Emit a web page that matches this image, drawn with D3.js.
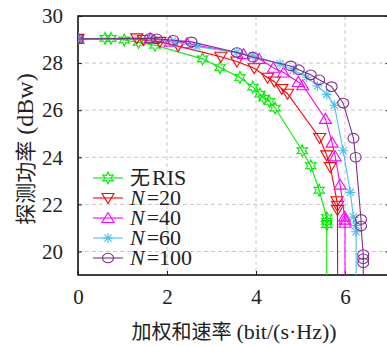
<!DOCTYPE html>
<html>
<head>
<meta charset="utf-8">
<script src="https://cdn.jsdelivr.net/npm/d3@7"></script>
<style>
  body { margin: 0; background: #fff; }
</style>
</head>
<body>
<svg id="chart" width="387" height="347"></svg>
<script>
// weighted sum rate (bit/(s·Hz)) vs detection power (dBw)
const xTicks = [0, 2, 4, 6];
const yTicks = [20, 22, 24, 26, 28, 30];

const noRisRate  = [0, 0.61, 0.74, 1.04, 1.36, 1.73, 2.80, 3.19, 3.64, 3.93, 4.09, 4.18, 4.30, 4.43, 5.04, 5.23, 5.42, 5.59, 5.59, 5.59, 5.59];
const noRisPower = [29.03, 29.05, 29.05, 28.98, 28.88, 28.76, 28.18, 27.81, 27.39, 26.98, 26.68, 26.51, 26.37, 26.09, 24.28, 23.64, 22.60, 21.43, 21.28, 21.14, 15];

const n20Rate  = [0, 1.32, 1.47, 1.84, 2.25, 3.21, 3.57, 3.96, 4.26, 4.41, 4.58, 4.71, 5.43, 5.59, 5.67, 5.82, 5.83, 5.83, 5.84];
const n20Power = [29.03, 29.05, 28.98, 28.90, 28.72, 28.27, 28.07, 27.78, 27.38, 27.22, 26.90, 26.70, 24.82, 24.08, 23.58, 22.13, 21.94, 21.76, 15];

const n40Rate  = [0, 1.62, 2.07, 2.45, 3.72, 4.07, 4.39, 4.62, 4.95, 5.05, 5.56, 5.71, 5.78, 5.89, 5.99, 6.00, 6.00, 6.00];
const n40Power = [29.03, 29.05, 28.91, 28.84, 28.38, 28.18, 27.80, 27.60, 27.20, 27.06, 25.63, 24.62, 24.04, 22.84, 21.48, 21.35, 21.22, 15];

const n60Rate  = [0, 1.65, 2.18, 2.67, 3.57, 3.93, 4.54, 4.84, 5.14, 5.38, 5.59, 5.76, 5.96, 6.12, 6.19, 6.24, 6.25, 6.25];
const n60Power = [29.03, 29.05, 28.91, 28.70, 28.46, 28.31, 27.97, 27.71, 27.40, 27.03, 26.67, 26.21, 24.28, 22.51, 21.46, 21.10, 20.84, 15];

const n100Rate  = [0, 1.62, 1.77, 2.14, 2.55, 3.57, 3.93, 4.78, 4.96, 5.23, 5.42, 5.70, 5.96, 6.19, 6.24, 6.36, 6.36, 6.41, 6.41, 6.41, 6.41];
const n100Power = [29.03, 29.05, 29.03, 28.97, 28.90, 28.45, 28.25, 27.88, 27.72, 27.50, 27.29, 27.00, 26.30, 24.81, 24.00, 21.36, 21.08, 19.87, 19.69, 19.52, 15];

const series = [
  {name: "RIS", pre: "无", rate: noRisRate, power: noRisPower, color: "#00ee00", marker: "hexagram"},
  {name: "=20", pre: "N", rate: n20Rate, power: n20Power, color: "#ff0000", marker: "down"},
  {name: "=40", pre: "N", rate: n40Rate, power: n40Power, color: "#ff00ff", marker: "up"},
  {name: "=60", pre: "N", rate: n60Rate, power: n60Power, color: "#4dbeee", marker: "asterisk"},
  {name: "=100", pre: "N", rate: n100Rate, power: n100Power, color: "#7e2f8e", marker: "circle"}
];

const serif = "'Liberation Serif', 'DejaVu Serif', serif";
const cjk = "'Noto Sans CJK SC', sans-serif";

const svg = d3.select("#chart");
const plotLeft = 78, plotTop = 16, plotRight = 389.5, plotBottom = 275;

const x = d3.scaleLinear().domain([0, 7]).range([plotLeft, plotRight]);
const y = d3.scaleLinear().domain([19, 30]).range([plotBottom, plotTop]);

svg.append("defs").append("clipPath").attr("id", "plotclip")
  .append("rect").attr("x", plotLeft).attr("y", plotTop)
  .attr("width", plotRight - plotLeft).attr("height", plotBottom - plotTop);

// grid
svg.append("g").selectAll("line.gx")
  .data(xTicks.filter(d => d > 0)).enter()
  .append("line").attr("class", "gx")
  .attr("x1", d => x(d)).attr("x2", d => x(d)).attr("y1", plotTop).attr("y2", plotBottom)
  .style("stroke", "#c8c8c8").style("stroke-dasharray", "4 3");
svg.append("g").selectAll("line.gy")
  .data(yTicks.filter(d => d < 30)).enter()
  .append("line").attr("class", "gy")
  .attr("x1", plotLeft).attr("x2", plotRight).attr("y1", d => y(d)).attr("y2", d => y(d))
  .style("stroke", "#c8c8c8").style("stroke-dasharray", "4 3");

// axes, ticks inward
const tk = 4;
svg.append("g").attr("transform", `translate(0,${plotBottom})`)
  .call(d3.axisBottom(x).tickValues(xTicks).tickFormat(d3.format("d"))
    .tickSizeInner(-tk).tickSizeOuter(0).tickPadding(14))
  .attr("font-family", serif)
  .call(g => g.selectAll("text").style("font-family", serif).style("font-size", "21px").style("fill", "#222"));
svg.append("g").attr("transform", `translate(${plotLeft},0)`)
  .call(d3.axisLeft(y).tickValues(yTicks).tickFormat(d3.format("d"))
    .tickSizeInner(-tk).tickSizeOuter(0).tickPadding(15))
  .attr("font-family", serif)
  .call(g => g.selectAll("text").style("font-family", serif).style("font-size", "21px").style("fill", "#222"));
svg.append("g").attr("transform", `translate(${plotRight},0)`)
  .call(d3.axisRight(y).tickValues(yTicks).tickSizeInner(-tk).tickSizeOuter(0).tickFormat(""));
svg.selectAll(".domain").remove();
svg.selectAll(".tick line").style("stroke", "#222");

svg.append("rect")
  .attr("x", plotLeft).attr("y", plotTop)
  .attr("width", plotRight - plotLeft).attr("height", plotBottom - plotTop)
  .style("fill", "none").style("stroke", "#111").style("stroke-width", 1.6);

// markers
function markerPath(type) {
  const p = d3.path();
  if (type === "hexagram") {
    for (let i = 0; i < 12; i++) {
      const r = i % 2 === 0 ? 6 : 3;
      const a = -Math.PI / 2 + i * Math.PI / 6;
      if (i === 0) p.moveTo(r * Math.cos(a), r * Math.sin(a));
      else p.lineTo(r * Math.cos(a), r * Math.sin(a));
    }
    p.closePath();
  } else if (type === "down") {
    p.moveTo(-6, -4.5); p.lineTo(6, -4.5); p.lineTo(0, 5.5); p.closePath();
  } else if (type === "up") {
    p.moveTo(-6, 4.5); p.lineTo(6, 4.5); p.lineTo(0, -5.5); p.closePath();
  } else if (type === "asterisk") {
    p.moveTo(-5, 0); p.lineTo(5, 0);
    p.moveTo(0, -5); p.lineTo(0, 5);
    p.moveTo(-3.6, -3.6); p.lineTo(3.6, 3.6);
    p.moveTo(-3.6, 3.6); p.lineTo(3.6, -3.6);
  }
  return p.toString();
}

function drawMarker(g, type, color) {
  if (type === "circle") {
    g.append("ellipse").attr("rx", 5.5).attr("ry", 4.8)
      .style("fill", "none").style("stroke", color).style("stroke-width", 1.1);
  } else {
    g.append("path").attr("d", markerPath(type))
      .style("fill", "none").style("stroke", color).style("stroke-width", 1.1);
  }
}

const plot = svg.append("g").attr("clip-path", "url(#plotclip)");
const line = d3.line().x(d => x(d[0])).y(d => y(d[1]));

series.forEach(s => {
  const pts = s.rate.map((r, i) => [r, s.power[i]]);
  plot.append("path").datum(pts)
    .attr("d", line)
    .style("fill", "none").style("stroke", s.color).style("stroke-width", 1.1);
  plot.selectAll(null)
    .data(pts.filter(d => d[1] >= 19)).enter()
    .append("g")
    .attr("transform", d => `translate(${x(d[0])},${y(d[1])})`)
    .each(function() { drawMarker(d3.select(this), s.marker, s.color); });
});

// legend: prefix and rest as two texts side by side
const legend = svg.append("g");
series.forEach((s, i) => {
  const ly = 178 + i * 20;
  const g = legend.append("g").attr("transform", `translate(0,${ly})`);
  g.append("line").attr("x1", 93).attr("x2", 123).attr("y1", 0).attr("y2", 0)
    .style("stroke", s.color).style("stroke-width", 1.1);
  drawMarker(g.append("g").attr("transform", "translate(108,0)"), s.marker, s.color);
  const pre = g.append("text").attr("x", 130).attr("y", 7)
    .style("font-size", "22px").style("fill", "#222").text(s.pre);
  if (s.pre === "N") pre.style("font-family", serif).style("font-style", "italic");
  else pre.style("font-family", cjk).style("font-size", "20px");
  const w = pre.node().getComputedTextLength();
  g.append("text").attr("x", 130 + w + 2).attr("y", 7)
    .style("font-family", serif).style("font-size", "22px").style("fill", "#222")
    .text(s.name);
});

// axis titles
const xt = svg.append("text")
  .attr("x", 234).attr("y", 339)
  .attr("text-anchor", "middle")
  .style("font-family", serif).style("font-size", "20px").style("fill", "#222");
xt.append("tspan").style("font-family", cjk).text("加权和速率");
xt.append("tspan").attr("dx", 5).style("font-size", "22px").text("(bit/(s·Hz))");

const yt = svg.append("text")
  .attr("transform", "translate(33,149) rotate(-90)")
  .attr("text-anchor", "middle")
  .style("font-family", serif).style("font-size", "21px").style("fill", "#222");
yt.append("tspan").style("font-family", cjk).text("探测功率");
yt.append("tspan").attr("dx", 6).style("font-size", "24px").text("(dBw)");
</script>
</body>
</html>
